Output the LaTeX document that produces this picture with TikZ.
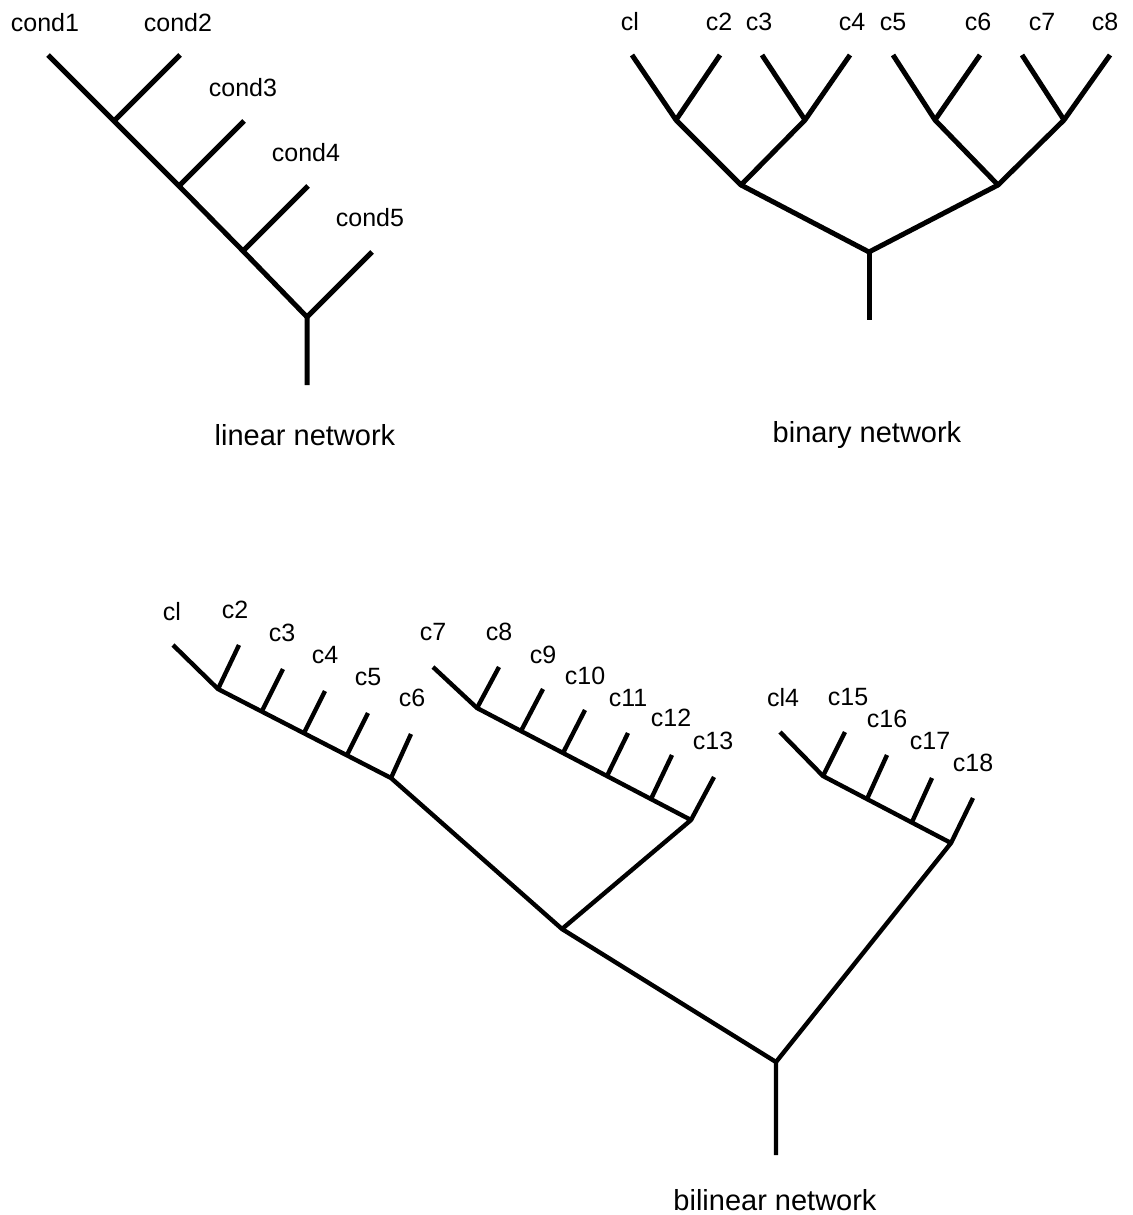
\documentclass[tikz,border=0pt]{standalone}
\usepackage{fontspec}
\setmainfont{Liberation Sans}
\begin{document}
\begin{tikzpicture}[x=0.5pt,y=-0.5pt]

    \tikzset{
      branch/.style={
        line width=2.5pt,
        line join=round,
      },
      thinbranch/.style={
        branch,
        line width=2.2pt,
      },
      leaf/.style={
        font=\fontsize{12.5}{14}\selectfont,
        inner sep=0pt,
        anchor=center,
      },
      caption/.style={
        font=\fontsize{14.5}{17}\selectfont,
        inner sep=0pt,
        anchor=center,
      },
    }
    \useasboundingbox (0,0) rectangle (1132,1215);

    % linear network
    \coordinate (l1) at (48,55);
    \coordinate (l2) at (180,55);
    \coordinate (l3) at (244,121);
    \coordinate (l4) at (308,186);
    \coordinate (l5) at (372,252);
    \coordinate (la) at (114,121);
    \coordinate (lb) at (179,186);
    \coordinate (lc) at (243,251);
    \coordinate (lr) at (307,317);
    \coordinate (lend) at (307,385);
    \node[leaf] (n1) at (45,23) {cond1};
    \node[leaf] (n2) at (178,23) {cond2};
    \node[leaf] (n3) at (243,88) {cond3};
    \node[leaf] (n4) at (306,153) {cond4};
    \node[leaf] (n5) at (370,218) {cond5};
    \draw[branch] (l1) -- (la) -- (lb) -- (lc) -- (lr) -- (lend);
    \draw[branch] (l2) -- (la);
    \draw[branch] (l3) -- (lb);
    \draw[branch] (l4) -- (lc);
    \draw[branch] (l5) -- (lr);
    \node[caption] (lincap) at (305,435) {linear network};

    % binary network
    \coordinate (b1) at (632,55);
    \coordinate (b2) at (720,55);
    \coordinate (b3) at (762,55);
    \coordinate (b4) at (850,55);
    \coordinate (b5) at (893,55);
    \coordinate (b6) at (980,55);
    \coordinate (b7) at (1022,55);
    \coordinate (b8) at (1110,55);
    \coordinate (ba) at (676,120);
    \coordinate (bb) at (805,120);
    \coordinate (bc) at (935,120);
    \coordinate (bd) at (1064,120);
    \coordinate (bab) at (741,185);
    \coordinate (bcd) at (998,185);
    \coordinate (br) at (869,252);
    \coordinate (bend) at (869,320);
    \node[leaf] (m1) at (630,22) {cl};
    \node[leaf] (m2) at (719,22) {c2};
    \node[leaf] (m3) at (759,22) {c3};
    \node[leaf] (m4) at (852,22) {c4};
    \node[leaf] (m5) at (893,22) {c5};
    \node[leaf] (m6) at (978,22) {c6};
    \node[leaf] (m7) at (1042,22) {c7};
    \node[leaf] (m8) at (1105,22) {c8};
    \draw[branch] (b1) -- (ba) -- (b2);
    \draw[branch] (b3) -- (bb) -- (b4);
    \draw[branch] (b5) -- (bc) -- (b6);
    \draw[branch] (b7) -- (bd) -- (b8);
    \draw[branch] (ba) -- (bab) -- (bb);
    \draw[branch] (bc) -- (bcd) -- (bd);
    \draw[branch] (bab) -- (br) -- (bcd);
    \draw[branch] (br) -- (bend);
    \node[caption] (bincap) at (867,435) {binary network};

    % bilinear network
    \coordinate (d1) at (173,645);
    \coordinate (d2) at (239,645);
    \coordinate (dj1) at (218,689);
    \coordinate (t3) at (262,711);
    \coordinate (t4) at (304,733);
    \coordinate (t5) at (347,755);
    \coordinate (dj6) at (391,778);
    \coordinate (d3) at (283,669);
    \coordinate (d4) at (325,691);
    \coordinate (d5) at (368,713);
    \coordinate (d6) at (411,734);
    \coordinate (d7) at (433,667);
    \coordinate (d8) at (499,667);
    \coordinate (dj7) at (477,708);
    \coordinate (t9) at (521,731);
    \coordinate (t10) at (563,753);
    \coordinate (t11) at (607,776);
    \coordinate (t12) at (651,799);
    \coordinate (dj13) at (691,820);
    \coordinate (d9) at (543,689);
    \coordinate (d10) at (585,710);
    \coordinate (d11) at (628,733);
    \coordinate (d12) at (672,755);
    \coordinate (d13) at (714,777);
    \coordinate (d14) at (780,732);
    \coordinate (d15) at (845,732);
    \coordinate (dj14) at (823,776);
    \coordinate (t16) at (867,799);
    \coordinate (t17) at (912,822);
    \coordinate (dj18) at (951,843);
    \coordinate (d16) at (887,755);
    \coordinate (d17) at (932,778);
    \coordinate (d18) at (973,798);
    \coordinate (dm) at (562,929);
    \coordinate (dr) at (776,1062);
    \coordinate (dend) at (776,1155);
    \node[leaf] (k1) at (172,612) {cl};
    \node[leaf] (k2) at (235,610) {c2};
    \node[leaf] (k3) at (282,633) {c3};
    \node[leaf] (k4) at (325,655) {c4};
    \node[leaf] (k5) at (368,677) {c5};
    \node[leaf] (k6) at (412,698) {c6};
    \node[leaf] (k7) at (433,632) {c7};
    \node[leaf] (k8) at (499,632) {c8};
    \node[leaf] (k9) at (543,655) {c9};
    \node[leaf] (k10) at (585,676) {c10};
    \node[leaf] (k11) at (628,698) {c11};
    \node[leaf] (k12) at (671,718) {c12};
    \node[leaf] (k13) at (713,741) {c13};
    \node[leaf] (k14) at (783,698) {cl4};
    \node[leaf] (k15) at (848,697) {c15};
    \node[leaf] (k16) at (887,719) {c16};
    \node[leaf] (k17) at (930,741) {c17};
    \node[leaf] (k18) at (973,763) {c18};
    \draw[thinbranch] (d1) -- (dj1) -- (dj6) -- (dm) -- (dr) -- (dend);
    \draw[thinbranch] (d2) -- (dj1);
    \draw[thinbranch] (d3) -- (t3);
    \draw[thinbranch] (d4) -- (t4);
    \draw[thinbranch] (d5) -- (t5);
    \draw[thinbranch] (d6) -- (dj6);
    \draw[thinbranch] (d7) -- (dj7) -- (dj13) -- (dm);
    \draw[thinbranch] (d8) -- (dj7);
    \draw[thinbranch] (d9) -- (t9);
    \draw[thinbranch] (d10) -- (t10);
    \draw[thinbranch] (d11) -- (t11);
    \draw[thinbranch] (d12) -- (t12);
    \draw[thinbranch] (d13) -- (dj13);
    \draw[thinbranch] (d14) -- (dj14) -- (dj18) -- (dr);
    \draw[thinbranch] (d15) -- (dj14);
    \draw[thinbranch] (d16) -- (t16);
    \draw[thinbranch] (d17) -- (t17);
    \draw[thinbranch] (d18) -- (dj18);
    \node[caption] (bilcap) at (775,1200) {bilinear network};

\end{tikzpicture}
\end{document}
